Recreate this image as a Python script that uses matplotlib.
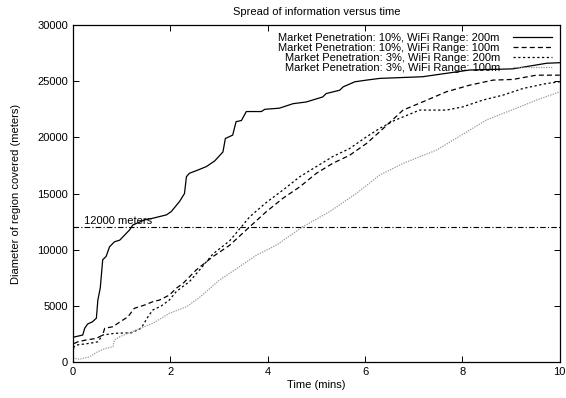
import numpy as np
import matplotlib
matplotlib.use("Agg")
import matplotlib.pyplot as plt

plt.rcParams['font.family'] = ['Liberation Sans', 'DejaVu Sans']

# 10% penetration, 200m range
t_a = [0, 0.2, 0.24, 0.3, 0.4, 0.48, 0.51, 0.56, 0.61, 0.68, 0.75, 0.85, 0.96, 1.06, 1.16, 1.23,
       1.47, 1.64, 1.92, 2.02, 2.19, 2.29, 2.33, 2.39, 2.57, 2.74, 2.91, 3.08, 3.13, 3.28, 3.35,
       3.46, 3.56, 3.87, 3.94, 4.24, 4.52, 4.79, 5.13, 5.2, 5.48, 5.55, 5.79, 6.03, 6.3, 7.18,
       8.15, 9.03, 9.73, 10]
d_a = [2200, 2400, 3000, 3380, 3580, 3900, 5500, 6600, 9100, 9400, 10250, 10700, 10850, 11300, 11750, 12200,
       12650, 12800, 13100, 13400, 14300, 15000, 16500, 16800, 17100, 17400, 17900, 18700, 19900, 20200, 21400,
       21500, 22300, 22300, 22500, 22600, 23000, 23150, 23600, 23900, 24200, 24500, 24950, 25100, 25250, 25400,
       26000, 26100, 26600, 26650]

# 10% penetration, 100m range
t_b = [0, 0.03, 0.1, 0.27, 0.48, 0.61, 0.65, 0.82, 0.92, 1.13, 1.26, 1.47, 1.64, 1.78, 1.98, 2.12,
       2.26, 2.53, 2.87, 3.22, 3.63, 3.97, 4.31, 4.66, 5.0, 5.34, 5.68, 6.03, 6.3, 6.78, 7.19,
       7.67, 8.15, 8.63, 9.04, 9.52, 10]
d_b = [900, 1660, 1800, 1960, 2100, 2400, 3000, 3140, 3440, 4030, 4780, 5070, 5370, 5520, 5960, 6560,
       7000, 8190, 9370, 10400, 12040, 13380, 14570, 15600, 16800, 17700, 18400, 19460, 20500, 22430, 23170,
       24060, 24650, 25100, 25160, 25540, 25540]

# 3% penetration, 200m range
t_c = [0, 0.07, 0.34, 0.51, 0.61, 0.85, 1.2, 1.4, 1.54, 1.64, 1.81, 1.98, 2.12, 2.25, 2.39, 2.57,
       2.87, 3.22, 3.63, 3.97, 4.31, 4.66, 5.0, 5.34, 5.68, 6.03, 6.3, 6.6, 7.12, 7.67, 8.01,
       8.42, 8.83, 9.25, 9.73, 10]
d_c = [1300, 1510, 1660, 1800, 2400, 2550, 2600, 3000, 4030, 4630, 4980, 5520, 6260, 6700, 7150, 8040,
       9600, 10800, 12930, 14200, 15300, 16500, 17400, 18300, 19000, 20050, 20800, 21500, 22430, 22430, 22720,
       23320, 23760, 24360, 24800, 24950]

# 3% penetration, 100m range
t_d = [0, 0.13, 0.34, 0.51, 0.68, 0.82, 0.85, 0.96, 1.3, 1.64, 1.98, 2.33, 2.6, 3.01, 3.42, 3.77,
       4.18, 4.72, 5.27, 5.82, 6.3, 6.78, 7.12, 7.47, 7.81, 8.15, 8.49, 8.83, 9.18, 9.52, 10]
d_d = [350, 240, 470, 920, 1220, 1360, 1960, 2250, 2850, 3440, 4330, 4920, 5750, 7300, 8480, 9520,
       10410, 12040, 13380, 15010, 16640, 17680, 18270, 18870, 19760, 20650, 21540, 22130, 22720, 23320, 24060]

labels = ['Market Penetration: 10%, WiFi Range: 200m',
          'Market Penetration: 10%, WiFi Range: 100m',
          'Market Penetration: 3%, WiFi Range: 200m',
          'Market Penetration: 3%, WiFi Range: 100m']
threshold = 12000

fig = plt.figure(figsize=(5.66, 3.98), dpi=100)
ax = fig.add_axes([0.129, 0.0905, 0.86, 0.8465])

ax.plot(t_a, d_a, color='black', lw=0.9, ls='-', label=labels[0])
ax.plot(t_b, d_b, color='black', lw=0.9, ls=(0, (4, 2.5)), label=labels[1])
ax.plot(t_c, d_c, color='black', lw=0.9, ls=(0, (1.8, 2)), label=labels[2])
ax.plot(t_d, d_d, color='#999999', lw=0.9, ls=(0, (1, 1)), label=labels[3])
ax.axhline(threshold, color='black', lw=0.8, ls=(0, (5, 2, 1, 2)))
ax.text(0.22, threshold + 150, '12000 meters', fontsize=8, va='bottom', ha='left')

ax.set_xlim(0, 10)
ax.set_ylim(0, 30000)
ax.set_xticks(np.arange(0, 11, 2))
ax.set_yticks(np.arange(0, 30001, 5000))
ax.tick_params(direction='in', top=True, right=True, labelsize=8, length=4, width=0.7)
for s in ax.spines.values():
    s.set_linewidth(0.9)

ax.set_xlabel('Time (mins)', fontsize=8, labelpad=2)
ax.set_ylabel('Diameter of region covered (meters)', fontsize=8, labelpad=12)
ax.set_title('Spread of information versus time', fontsize=8, pad=7)

ax.legend(loc='upper right', frameon=False, markerfirst=False, fontsize=8,
          handlelength=3.5, labelspacing=0.0, borderaxespad=0.3, handletextpad=1.2,
          alignment='right')

fig.savefig('out.png', dpi=100)
